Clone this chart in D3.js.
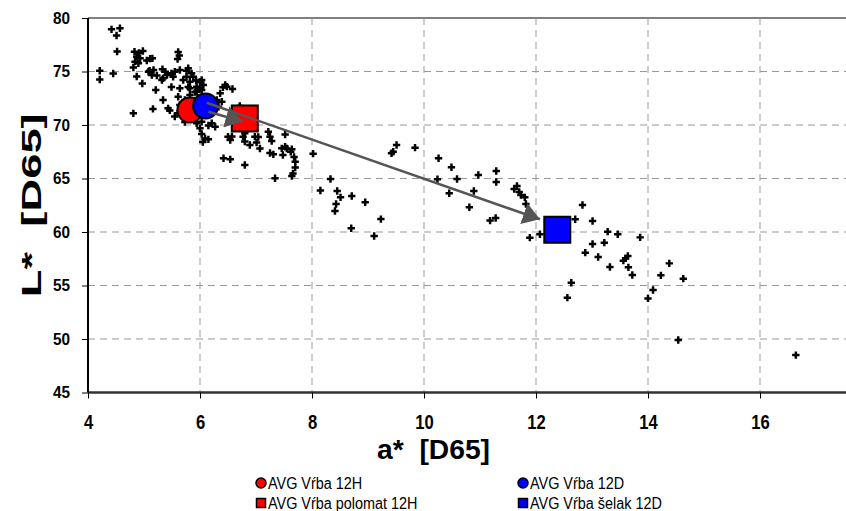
<!DOCTYPE html>
<html><head><meta charset="utf-8">
<script src="https://cdn.jsdelivr.net/npm/d3@7"></script>
<style>
html,body{margin:0;padding:0;background:#fff;}
svg{display:block;font-family:"Liberation Sans",Arial,sans-serif;}
</style></head>
<body>
<svg id="chart" width="846" height="511"></svg>
<script>
// ---- data ----
const sampleA = [4.42,4.57,4.51,4.52,4.21,4.21,4.45,4.83,4.91,4.98,4.87,4.93,4.84,4.90,4.81,5.11,5.05,4.87,4.97,5.08,5.14,5.23,5.17,5.21,5.16,4.81,5.10,
5.33,5.38,5.41,5.34,5.49,5.55,5.52,5.64,5.32,5.61,5.63,5.60,5.49,5.64,5.61,5.82,5.82,5.34,5.43,5.46,5.55,5.60,5.64,5.79,5.85,5.76,5.70,5.82,5.88,6.03,6.00,6.06,5.94,6.00,5.76,5.93,5.79,
6.41,6.48,6.58,6.36,6.30,6.39,6.33,6.71,6.21,6.15,6.27,6.03,6.00,5.94,6.03,6.09,6.05,6.15,6.50,6.54,6.57,6.77,6.80,6.80,6.98,7.04,7.01,7.07,6.89,7.22,7.25,7.28,7.52,7.25,7.31,7.46,7.55,7.64,7.48,7.68,7.70,7.66,7.64,7.34,6.42,6.54,6.80,
8.02,8.33,8.15,8.45,8.51,8.43,8.41,8.71,8.95,8.70,9.23,9.11,9.42,9.45,9.51,9.84,10.26,10.24,10.49,10.59,10.45,10.97,10.89,10.81,11.29,11.29,11.18,11.28,11.61,11.66,11.70,11.73,11.80,11.82,11.89,12.07,
12.70,12.83,13.01,13.28,13.46,13.86,13.01,13.22,12.88,13.11,13.32,13.56,13.60,13.64,13.65,13.72,14.38,14.23,14.63,14.09,14.00,12.63,12.56,14.54,16.64,
5.73,5.68,5.91,5.96,5.73,5.15,5.94,6.03,6.45,7.52,7.62,7.70];
const sampleL = [78.94,79.04,78.36,76.87,75.07,74.25,74.81,76.85,76.73,76.92,76.38,76.23,75.92,75.77,75.37,76.21,76.03,74.53,73.88,74.98,74.67,74.63,75.14,73.27,71.50,71.09,75.07,
75.21,74.98,74.67,74.36,74.83,74.98,74.51,75.14,74.21,76.82,76.50,76.17,73.55,73.43,72.64,73.43,72.80,72.34,71.56,71.36,70.79,71.09,71.87,75.30,74.83,74.51,74.21,74.05,74.51,74.21,74.02,73.74,73.58,73.43,75.07,74.16,73.55,
73.52,73.58,73.36,72.96,72.34,72.18,71.71,71.78,70.16,69.95,69.84,70.31,69.69,70.16,69.16,68.74,68.41,68.66,68.91,68.60,68.93,68.91,68.46,69.22,68.91,68.88,68.36,67.80,68.13,69.37,68.91,68.50,69.11,67.38,67.26,67.82,67.80,67.73,67.20,67.01,66.03,65.47,65.23,65.02,66.89,66.79,66.26,
67.32,64.95,63.88,63.83,63.24,62.62,61.96,63.36,62.78,60.35,61.21,59.63,67.36,67.50,68.13,67.88,66.89,64.93,66.05,64.95,63.62,65.33,63.83,62.31,65.70,64.67,61.07,61.31,64.02,64.30,63.74,63.46,63.24,62.62,59.47,59.79,
61.19,62.52,61.03,60.03,59.79,59.50,58.88,59.00,58.07,57.66,56.73,57.32,57.54,57.76,56.70,55.98,57.07,55.95,55.64,54.58,53.79,55.26,53.86,49.91,48.50,
72.34,71.40,73.08,72.52,70.28,76.23,73.11,73.27,73.74,67.97,67.50,66.57];

const avgNames  = ["AVG Vŕba 12H","AVG Vŕba 12D","AVG Vŕba polomat 12H","AVG Vŕba šelak 12D"];
const avgA      = [5.82, 6.10, 6.80, 12.38];
const avgL      = [71.40, 71.78, 70.61, 60.21];
const avgColors = ["#ff0000","#0000ff","#ff0000","#0000ff"];
const avgShapes = ["circle","circle","square","square"];

// arrows: [fromA, fromL, toA, toL]
const arrows = [[6.12,72.08,12.07,61.19],[6.15,71.24,6.76,70.33]];

const xTicks = [4,6,8,10,12,14,16];
const yTicks = [45,50,55,60,65,70,75,80];
const xTitle = "a*  [D65]";
const yTitle = "L*  [D65]";

// ---- layout ----
const svg = d3.select("#chart");
const pL = 88, pR = 844, pT = 18, pB = 392.5;
const x = d3.scaleLinear().domain([4,17.5]).range([pL,pR]);
const y = d3.scaleLinear().domain([45,80]).range([pB,pT]);

// adjust text run length (the reference glyphs are condensed)
function squeeze(sel, k){
  sel.each(function(){
    const w = this.getComputedTextLength();
    d3.select(this).attr("textLength", w*k).attr("lengthAdjust","spacingAndGlyphs");
  });
}
function fitTo(sel, len){
  sel.attr("textLength", len).attr("lengthAdjust","spacingAndGlyphs");
}

// gridlines
const grid = svg.append("g");
grid.selectAll("line.v").data(xTicks.slice(1)).join("line")
  .attr("x1",d=>x(d)).attr("x2",d=>x(d)).attr("y1",pT).attr("y2",pB)
  .attr("stroke","#999").attr("stroke-width",1).attr("stroke-dasharray","7,5");
grid.selectAll("line.h").data(yTicks.slice(1,-1)).join("line")
  .attr("y1",d=>y(d)).attr("y2",d=>y(d)).attr("x1",pL).attr("x2",pR+2)
  .attr("stroke","#999").attr("stroke-width",1).attr("stroke-dasharray","7,5");
// top border
svg.append("line").attr("x1",pL).attr("x2",846).attr("y1",pT).attr("y2",pT)
  .attr("stroke","#808080").attr("stroke-width",2);

// axes
const xAxis = svg.append("g").attr("transform",`translate(0,${pB})`)
  .call(d3.axisBottom(x).tickValues(xTicks).tickSize(6).tickFormat(d3.format("d")));
xAxis.select(".domain").attr("stroke","#333").attr("stroke-width",2.5).attr("d",`M${pL},0H846`);
xAxis.selectAll(".tick line").attr("stroke","#000").attr("stroke-width",1);
xAxis.selectAll("text").attr("y",36.5).attr("dy",0).attr("font-size",19.5).attr("font-weight","bold").attr("fill","#000")
  .attr("font-family","'Liberation Sans',Arial,sans-serif").call(squeeze,0.85);

const yAxis = svg.append("g").attr("transform",`translate(${pL},0)`)
  .call(d3.axisLeft(y).tickValues(yTicks).tickSize(6).tickPadding(12).tickFormat(d3.format("d")));
yAxis.select(".domain").attr("stroke","#000").attr("stroke-width",2).attr("d",`M0,${pT}V${pB}`);
yAxis.selectAll(".tick line").attr("stroke","#000").attr("stroke-width",1);
yAxis.selectAll("text").attr("font-size",17).attr("font-weight","bold").attr("fill","#000")
  .attr("font-family","'Liberation Sans',Arial,sans-serif").call(squeeze,0.9);

// axis titles
svg.append("text").attr("x",377).attr("y",459).style("white-space","pre")
  .attr("font-size",28).attr("font-weight","bold").text(xTitle).call(fitTo,113);
svg.append("text").attr("transform",`translate(41,${(pT+pB)/2}) rotate(-90)`).attr("x",-92).style("white-space","pre")
  .attr("font-size",27).attr("font-weight","bold").text(yTitle).call(fitTo,184);

// sample points
const cross = d3.symbol().type(d3.symbolCross).size(30);
svg.append("g").selectAll("path").data(sampleA.map((a,i)=>[a,sampleL[i]])).join("path")
  .attr("d",cross).attr("transform",d=>`translate(${x(d[0])},${y(d[1])})`).attr("fill","#000");

// averages
const avgG = svg.append("g");
avgNames.forEach((n,i)=>{
  if(avgShapes[i]==="circle"){
    avgG.append("circle").attr("cx",x(avgA[i])).attr("cy",y(avgL[i])).attr("r",12.5)
      .attr("fill",avgColors[i]).attr("stroke","#000").attr("stroke-width",2);
  } else {
    avgG.append("rect").attr("x",x(avgA[i])-13).attr("y",y(avgL[i])-13).attr("width",26).attr("height",26)
      .attr("fill",avgColors[i]).attr("stroke","#000").attr("stroke-width",2);
  }
});

// arrows
svg.append("defs").append("marker").attr("id","ah").attr("markerUnits","userSpaceOnUse")
  .attr("markerWidth",20).attr("markerHeight",22).attr("refX",17).attr("refY",11).attr("orient","auto")
  .append("path").attr("d","M0,0L17,11L0,22Z").attr("fill","#555");
svg.append("g").selectAll("line").data(arrows).join("line")
  .attr("x1",d=>x(d[0])).attr("y1",d=>y(d[1])).attr("x2",d=>x(d[2])).attr("y2",d=>y(d[3]))
  .attr("stroke","#555").attr("stroke-width",2.5).attr("marker-end","url(#ah)");

// legend
const legX = [261, 523], legY = [483, 503];
avgNames.forEach((n,i)=>{
  const cx = legX[i%2], cy = legY[Math.floor(i/2)];
  if(avgShapes[i]==="circle"){
    svg.append("circle").attr("cx",cx).attr("cy",cy).attr("r",5)
      .attr("fill",avgColors[i]).attr("stroke","#000").attr("stroke-width",1.5);
  } else {
    svg.append("rect").attr("x",cx-4.5).attr("y",cy-4.5).attr("width",9).attr("height",9)
      .attr("fill",avgColors[i]).attr("stroke","#000").attr("stroke-width",1.5);
  }
  svg.append("text").attr("x",cx+7).attr("y",cy+5.5).attr("font-size",16).text(n).call(squeeze,0.9);
});
</script>
</body></html>
